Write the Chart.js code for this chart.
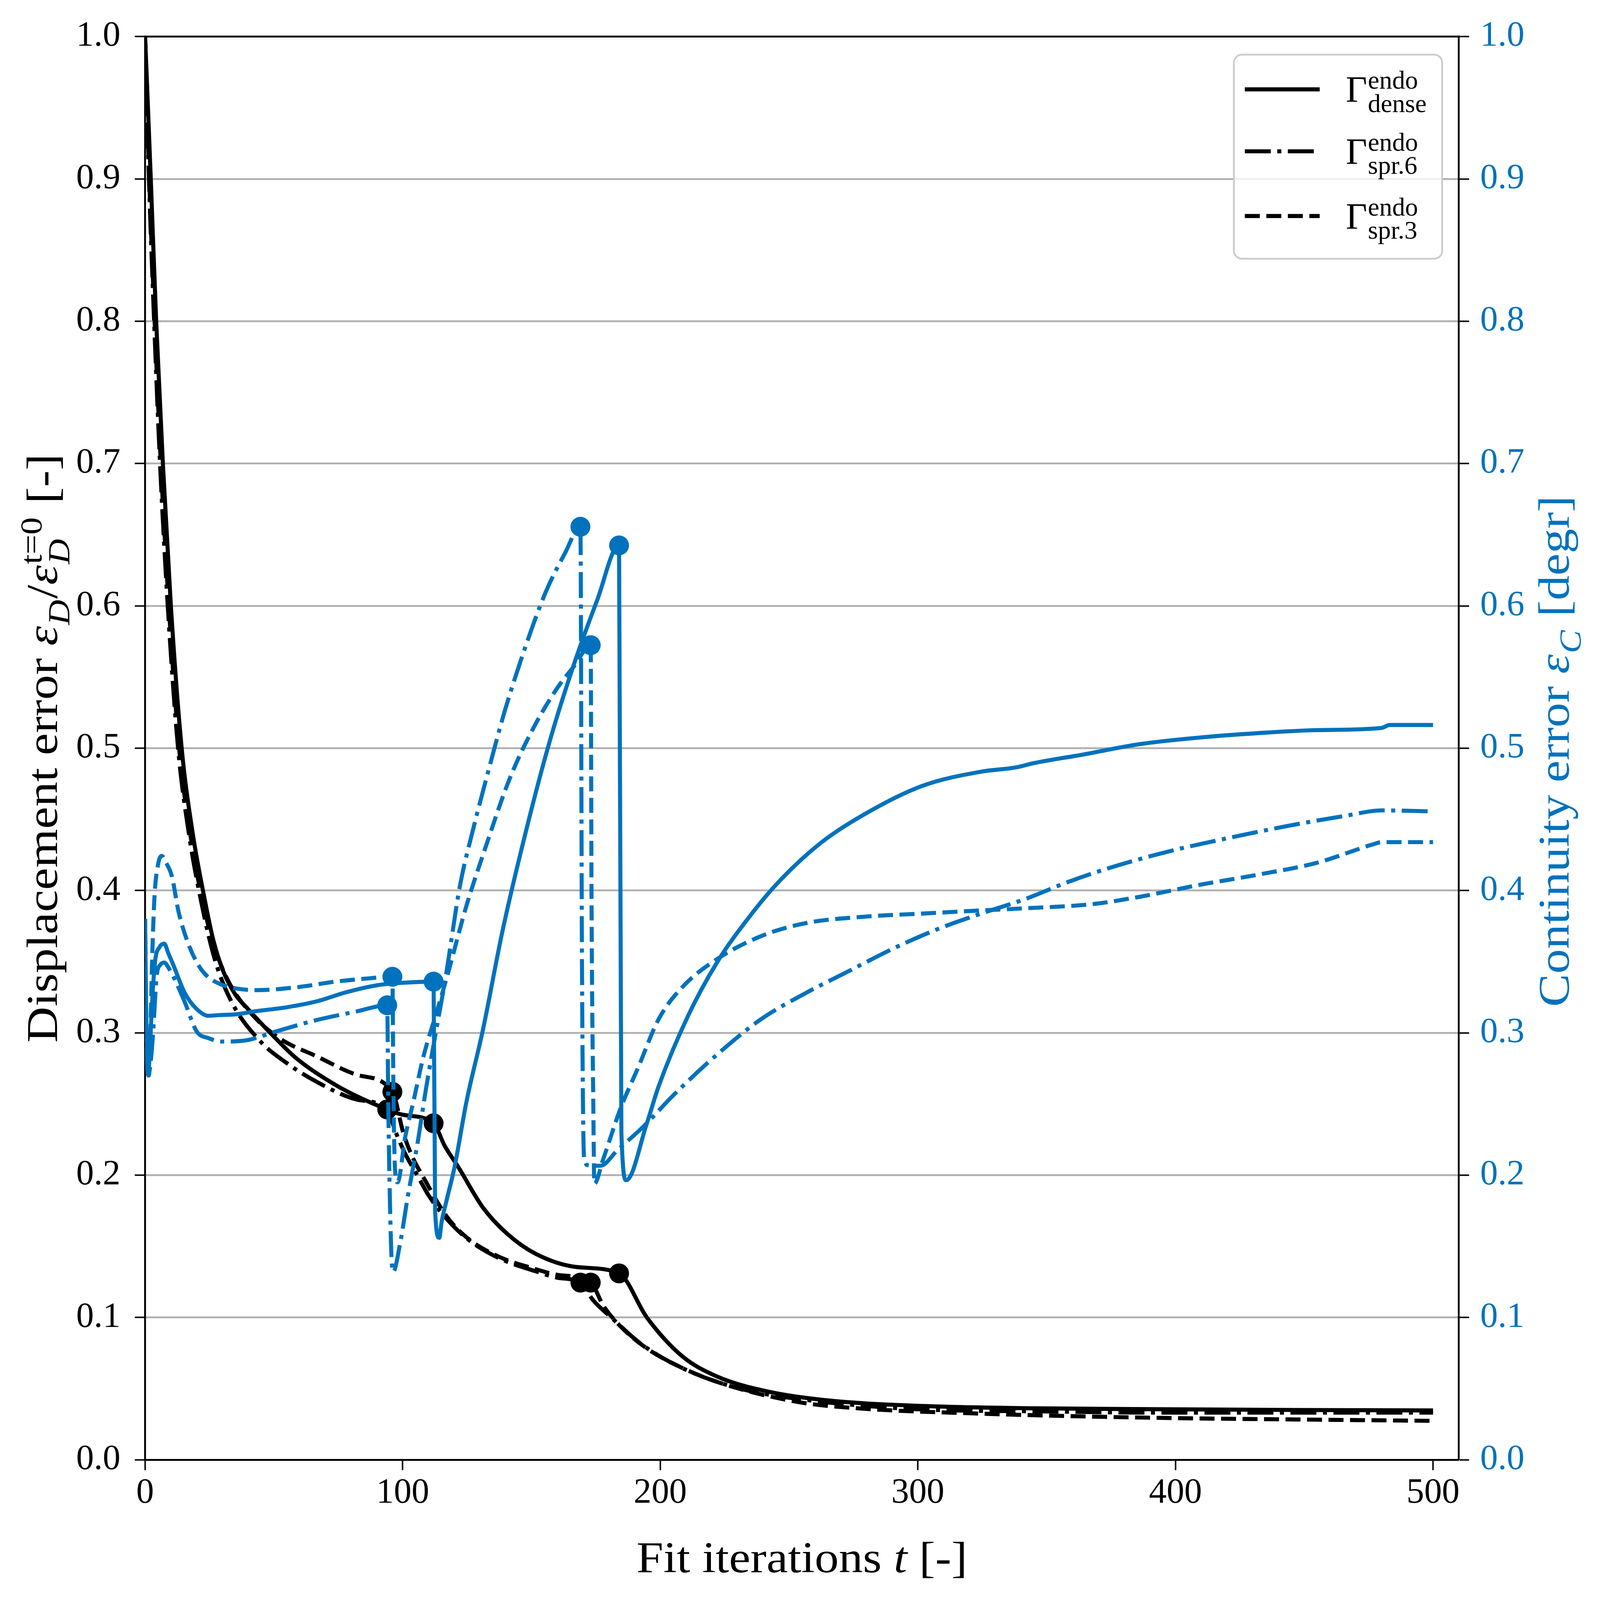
<!DOCTYPE html>
<html>
<head>
<meta charset="utf-8">
<script src="https://cdn.jsdelivr.net/npm/chart.js@4.4.1/dist/chart.umd.min.js"></script>
<style>
html, body { margin: 0; padding: 0; background: #fff; overflow: hidden; }
canvas { display: block; }
</style>
</head>
<body>
<canvas id="fit-errors"></canvas>
<script>
// displacement error (left axis), normalised by the t=0 value
const tDispDense = [0, 1, 2.2, 4.3, 6.9, 10, 14.2, 18.5, 23, 26.5, 30.4, 35, 39.8, 49.3, 58.7, 74.5, 90.2, 100, 112, 116.2, 121.7, 131.1, 140.6, 151.6, 167.4, 184, 194.8, 208.4, 222, 242.5, 265.3, 299.4, 345, 390, 450, 500];
const dispDense = [1.0, 0.955, 0.9, 0.8, 0.7, 0.6, 0.5, 0.44, 0.395, 0.365, 0.343, 0.327, 0.317, 0.2987, 0.2821, 0.2628, 0.249, 0.2425, 0.2365, 0.221, 0.2054, 0.1774, 0.1588, 0.1448, 0.1355, 0.131, 0.1, 0.073, 0.0586, 0.0477, 0.0417, 0.038, 0.0362, 0.0356, 0.035, 0.0347];

const tDispSpr6 = [0, 1.5, 3.5, 5.8, 8.8, 12.8, 17, 21.8, 27, 33.5, 44.5, 55.6, 66.6, 82.3, 94, 97.3, 101, 105.9, 110, 115.4, 124.8, 137.4, 151.6, 160, 169, 174, 181, 192.5, 208.4, 231, 258.5, 299.4, 350, 390, 450, 500];
const dispSpr6 = [1.0, 0.9, 0.8, 0.7, 0.6, 0.5, 0.44, 0.392, 0.352, 0.322, 0.2945, 0.278, 0.2656, 0.2531, 0.2462, 0.2302, 0.215, 0.1992, 0.186, 0.1728, 0.1557, 0.1417, 0.1325, 0.128, 0.1245, 0.112, 0.1, 0.0815, 0.0646, 0.05, 0.0417, 0.0356, 0.034, 0.0332, 0.0332, 0.0332];

const tDispSpr3 = [0, 1.6, 3.7, 6.1, 9.2, 13.2, 17.5, 22, 27, 32.7, 42, 52.4, 66.6, 82.3, 96, 100.4, 104, 108.3, 117, 125, 137, 151.6, 160, 173, 178, 185, 195, 208, 225, 254, 276.7, 322, 390, 450, 500];
const dispSpr3 = [1.0, 0.9, 0.8, 0.7, 0.6, 0.5, 0.44, 0.395, 0.36, 0.335, 0.312, 0.2959, 0.2835, 0.2705, 0.2586, 0.2287, 0.212, 0.1977, 0.1712, 0.156, 0.143, 0.134, 0.13, 0.1245, 0.108, 0.093, 0.078, 0.065, 0.053, 0.0405, 0.0362, 0.0326, 0.0296, 0.0283, 0.0274];

// continuity error (right axis)
const tContDense = [0, 0.5, 1.2, 2.4, 3.1, 4, 5.5, 7.45, 9, 10.9, 15.4, 20, 24.6, 28.8, 35, 43, 55, 66.6, 78, 90.2, 100, 112, 112.6, 114.2, 115.1, 117, 120.1, 124.8, 131.1, 138.8, 147.9, 157.1, 166.3, 175.5, 184, 184.9, 186.8, 194.8, 199.4, 210.8, 222.2, 233.5, 244.9, 262, 279, 301.7, 324.5, 338, 345, 364, 386.7, 409.4, 432.2, 454.9, 479.9, 483.2, 500];
const contDense = [0.38, 0.3, 0.272, 0.31, 0.333, 0.352, 0.36, 0.3627, 0.356, 0.348, 0.328, 0.3168, 0.312, 0.3125, 0.313, 0.3152, 0.318, 0.3221, 0.3285, 0.3335, 0.3352, 0.336, 0.174, 0.156, 0.167, 0.182, 0.2054, 0.252, 0.3017, 0.372, 0.442, 0.505, 0.558, 0.604, 0.6425, 0.23, 0.1965, 0.2365, 0.2626, 0.312, 0.35, 0.379, 0.404, 0.433, 0.4533, 0.4735, 0.4835, 0.4865, 0.4895, 0.4955, 0.503, 0.5075, 0.5106, 0.5127, 0.5142, 0.5163, 0.5163];

const tContSpr6 = [0, 0.5, 1.2, 2.2, 3.1, 4.5, 6, 7.45, 9, 10.9, 15.4, 20, 24.6, 30, 40, 50.8, 66.6, 82, 94, 94.4, 95.5, 96.3, 98.9, 102, 105.9, 109.1, 113, 116.5, 122.3, 127.2, 133.4, 139.6, 147.6, 155.6, 163, 169, 169.6, 170.4, 171.9, 176.7, 183.5, 193.7, 205, 222.2, 239.2, 256.2, 273.3, 290.4, 307.4, 324.5, 341.5, 358.3, 375.3, 398.1, 420.8, 443.6, 466.3, 480, 500];
const contSpr6 = [0.38, 0.3, 0.27, 0.28, 0.3, 0.34, 0.348, 0.3494, 0.346, 0.3398, 0.3216, 0.3011, 0.2963, 0.2939, 0.295, 0.301, 0.309, 0.315, 0.3194, 0.25, 0.15, 0.132, 0.151, 0.1852, 0.224, 0.2613, 0.3017, 0.337, 0.404, 0.442, 0.485, 0.526, 0.571, 0.61, 0.637, 0.6556, 0.35, 0.213, 0.207, 0.2066, 0.2178, 0.2346, 0.256, 0.285, 0.3097, 0.3277, 0.3435, 0.3592, 0.3727, 0.3838, 0.3939, 0.406, 0.4164, 0.4278, 0.437, 0.4454, 0.4526, 0.4563, 0.4556];

const tContSpr3 = [0, 0.5, 1.3, 1.8, 2.2, 2.65, 3.6, 5, 6.5, 8, 10.4, 13, 16.9, 20.9, 24, 29.5, 36, 43, 58.7, 74, 85, 96, 96.4, 97, 98, 101, 104.2, 108, 113.6, 117.3, 124.7, 132.1, 141.4, 150.7, 159.9, 166.7, 173, 173.3, 174, 174.4, 177.8, 184.6, 191.5, 199.4, 208.5, 222.2, 239.2, 256.2, 279, 301.7, 324.5, 341.2, 368.5, 386.7, 409.4, 432.2, 454.9, 477.7, 480, 500];
const contSpr3 = [0.38, 0.3, 0.27, 0.276, 0.31, 0.346, 0.394, 0.418, 0.4243, 0.42, 0.41, 0.385, 0.362, 0.347, 0.34, 0.334, 0.331, 0.33, 0.332, 0.336, 0.338, 0.3394, 0.26, 0.205, 0.195, 0.227, 0.252, 0.283, 0.317, 0.34, 0.389, 0.43, 0.478, 0.514, 0.542, 0.558, 0.5724, 0.4, 0.25, 0.194, 0.211, 0.247, 0.276, 0.3097, 0.332, 0.352, 0.368, 0.377, 0.3816, 0.3838, 0.386, 0.3875, 0.3906, 0.3958, 0.404, 0.4112, 0.4195, 0.433, 0.434, 0.434];

// iterations where the fit was restarted (marked with a dot)
const restartDense = [112, 184];
const restartSpr6 = [94, 169];
const restartSpr3 = [96, 173];

const xTicks = [0, 100, 200, 300, 400, 500];
const yTicks = [0, 0.1, 0.2, 0.3, 0.4, 0.5, 0.6, 0.7, 0.8, 0.9, 1.0];

// the layout was measured on a 4532x4155 picture; scale it to the real viewport
const W = window.innerWidth || 4532;
const H = window.innerHeight || 4155;
const sx = W / 4532, sy = H / 4155, k = Math.sqrt(sx * sy);

const BLUE = '#0072bd';
const SERIF = '"Liberation Serif", "DejaVu Serif", serif';
const LW = 11 * k;
const DASHED = [3.7 * LW, 1.6 * LW];
const DASHDOT = [6.4 * LW, 1.6 * LW, 1 * LW, 1.6 * LW];

function pts(ts, vs) {
    return ts.map((t, i) => ({ x: t, y: vs[i] }));
}

function series(label, ts, vs, axis, color, dash, restarts, order) {
    return {
        label: label,
        data: pts(ts, vs),
        yAxisID: axis,
        borderColor: color,
        backgroundColor: color,
        borderWidth: LW,
        borderDash: dash,
        borderJoinStyle: 'round',
        cubicInterpolationMode: 'monotone',
        pointRadius: (c) => (c.raw && restarts.includes(c.raw.x) ? 27 * k : 0),
        pointHoverRadius: 0,
        pointBackgroundColor: color,
        pointBorderWidth: 0,
        order: order,
    };
}

// text with sub/superscripts, drawn on the canvas
function fontOf(px, it) {
    return (it ? 'italic ' : '') + px + 'px ' + SERIF;
}
function richWidth(ctx, runs, size) {
    let w = 0;
    runs.forEach((r) => {
        if (r.s !== undefined) {
            ctx.font = fontOf(size, r.it);
            w += ctx.measureText(r.s).width;
        } else {
            const ss = size * 0.7;
            ctx.font = fontOf(ss, r.supIt);
            const a = r.sup ? ctx.measureText(r.sup).width : 0;
            ctx.font = fontOf(ss, r.subIt);
            const b = r.sub ? ctx.measureText(r.sub).width : 0;
            w += Math.max(a, b) + size * 0.04;
        }
    });
    return w;
}
// stretch widens the glyphs a little, the Computer Modern look of the original is broader than Times
function drawRich(ctx, runs, x, y, size, color, align, stretch) {
    const st = stretch || 1;
    ctx.save();
    ctx.translate(x, y);
    ctx.scale(st, 1);
    let cx = align === 'center' ? -richWidth(ctx, runs, size) / 2 : 0;
    ctx.fillStyle = color;
    ctx.textAlign = 'left';
    ctx.textBaseline = 'alphabetic';
    runs.forEach((r) => {
        if (r.s !== undefined) {
            ctx.font = fontOf(size, r.it);
            ctx.fillText(r.s, cx, 0);
            cx += ctx.measureText(r.s).width;
        } else {
            const ss = size * 0.7;
            let w = 0;
            if (r.sup) {
                ctx.font = fontOf(ss, r.supIt);
                ctx.fillText(r.sup, cx + size * 0.02, -size * 0.36);
                w = Math.max(w, ctx.measureText(r.sup).width);
            }
            if (r.sub) {
                ctx.font = fontOf(ss, r.subIt);
                ctx.fillText(r.sub, cx + size * 0.02, size * 0.27);
                w = Math.max(w, ctx.measureText(r.sub).width);
            }
            cx += w + size * 0.04;
        }
    });
    ctx.restore();
}

const leftTitle = [
    { s: 'Displacement error ' }, { s: 'ε', it: true }, { sub: 'D', subIt: true },
    { s: '/' }, { s: 'ε', it: true }, { sup: 't=0', supIt: false, sub: 'D', subIt: true },
    { s: ' [-]' },
];
const rightTitle = [
    { s: 'Continuity error ' }, { s: 'ε', it: true }, { sub: 'C', subIt: true }, { s: ' [degr]' },
];
const bottomTitle = [{ s: 'Fit iterations ' }, { s: 't', it: true }, { s: ' [-]' }];

const legendRows = [
    { sub: 'dense', ds: 0 },
    { sub: 'spr.6', ds: 1 },
    { sub: 'spr.3', ds: 2 },
];

const decorations = {
    id: 'decorations',
    afterDraw(chart) {
        const { ctx, chartArea: a } = chart;
        ctx.save();

        // top spine
        ctx.strokeStyle = '#000';
        ctx.lineWidth = 5 * k;
        ctx.beginPath();
        ctx.moveTo(a.left - 2.5 * k, a.top);
        ctx.lineTo(a.right + 2.5 * k, a.top);
        ctx.stroke();

        // axis titles
        const ts = 120 * k;
        drawRich(ctx, bottomTitle, (a.left + a.right) / 2, a.bottom + 292 * sy, ts, '#000', 'center', 1.09);

        ctx.save();
        ctx.translate(a.left - 249 * sx, (a.top + a.bottom) / 2);
        ctx.rotate(-Math.PI / 2);
        drawRich(ctx, leftTitle, 0, 0, ts, '#000', 'center', 1.13);
        ctx.restore();

        ctx.save();
        ctx.translate(a.right + 311 * sx, (a.top + a.bottom) / 2 + 8 * sy);
        ctx.rotate(-Math.PI / 2);
        drawRich(ctx, rightTitle, 0, 0, ts, BLUE, 'center', 1.12);
        ctx.restore();

        // legend
        const bw = 590 * sx, bh = 530 * sy;
        const bx = a.right - 47 * sx - bw, by = a.top + 47 * sy;
        ctx.beginPath();
        ctx.roundRect(bx, by, bw, bh, 22 * k);
        ctx.fillStyle = 'rgba(255,255,255,0.8)';
        ctx.fill();
        ctx.strokeStyle = '#cccccc';
        ctx.lineWidth = 5 * k;
        ctx.stroke();

        const rowY = [90, 251, 419];
        legendRows.forEach((row, i) => {
            const ds = chart.data.datasets[row.ds];
            const y = by + rowY[i] * sy;
            ctx.save();
            ctx.strokeStyle = ds.borderColor;
            ctx.lineWidth = LW;
            ctx.lineCap = 'butt';
            ctx.setLineDash(ds.borderDash || []);
            ctx.beginPath();
            ctx.moveTo(bx + 31 * sx, y);
            ctx.lineTo(bx + 243 * sx, y);
            ctx.stroke();
            ctx.restore();
            drawRich(ctx, [{ s: 'Γ' }, { sup: 'endo', sub: row.sub }], bx + 317 * sx, y + 33 * sy, 100 * k, '#000', 'left', 1);
        });

        ctx.restore();
    },
};

const canvas = document.getElementById('fit-errors');
canvas.width = W;
canvas.height = H;
const ctx = canvas.getContext('2d');
const tickFont = { family: SERIF, size: 96 * k };

const myChart = new Chart(ctx, {
    type: 'line',
    data: {
        datasets: [
            series('dense', tDispDense, dispDense, 'y', '#000', [], restartDense, 2),
            series('spr.6', tDispSpr6, dispSpr6, 'y', '#000', DASHDOT, restartSpr6, 2),
            series('spr.3', tDispSpr3, dispSpr3, 'y', '#000', DASHED, restartSpr3, 2),
            series('dense', tContDense, contDense, 'y2', BLUE, [], restartDense, 1),
            series('spr.6', tContSpr6, contSpr6, 'y2', BLUE, DASHDOT, restartSpr6, 1),
            series('spr.3', tContSpr3, contSpr3, 'y2', BLUE, DASHED, restartSpr3, 1),
        ],
    },
    options: {
        responsive: false,
        devicePixelRatio: 1,
        animation: false,
        layout: { padding: { top: 95 * sy, left: 0, right: 0, bottom: 0 } },
        plugins: {
            legend: { display: false },
            tooltip: { enabled: false },
        },
        scales: {
            x: {
                type: 'linear',
                min: 0,
                max: 510,
                afterFit: (s) => { s.height = 364 * sy; },
                afterBuildTicks: (s) => { s.ticks = xTicks.map((v) => ({ value: v })); },
                border: { color: '#000', width: 5 * k },
                grid: { drawOnChartArea: false, tickLength: 28 * k, tickWidth: 4 * k, tickColor: '#000' },
                ticks: { padding: 6 * k, color: '#000', font: tickFont, maxRotation: 0, autoSkip: false },
            },
            y: {
                position: 'left',
                min: 0,
                max: 1,
                afterFit: (s) => { s.width = 411 * sx; },
                afterBuildTicks: (s) => { s.ticks = yTicks.map((v) => ({ value: v })); },
                border: { color: '#000', width: 5 * k },
                grid: { color: '#b0b0b0', lineWidth: 5 * k, tickLength: 28 * k, tickWidth: 4 * k, tickColor: '#000' },
                ticks: { padding: 39 * k, color: '#000', font: tickFont, autoSkip: false, callback: (v) => v.toFixed(1) },
            },
            y2: {
                position: 'right',
                min: 0,
                max: 1,
                afterFit: (s) => { s.width = 400 * sx; },
                afterBuildTicks: (s) => { s.ticks = yTicks.map((v) => ({ value: v })); },
                border: { color: '#000', width: 5 * k },
                grid: { drawOnChartArea: false, tickLength: 28 * k, tickWidth: 4 * k, tickColor: '#000' },
                ticks: { padding: 30 * k, color: BLUE, font: tickFont, autoSkip: false, callback: (v) => v.toFixed(1) },
            },
        },
    },
    plugins: [decorations],
});
</script>
</body>
</html>
